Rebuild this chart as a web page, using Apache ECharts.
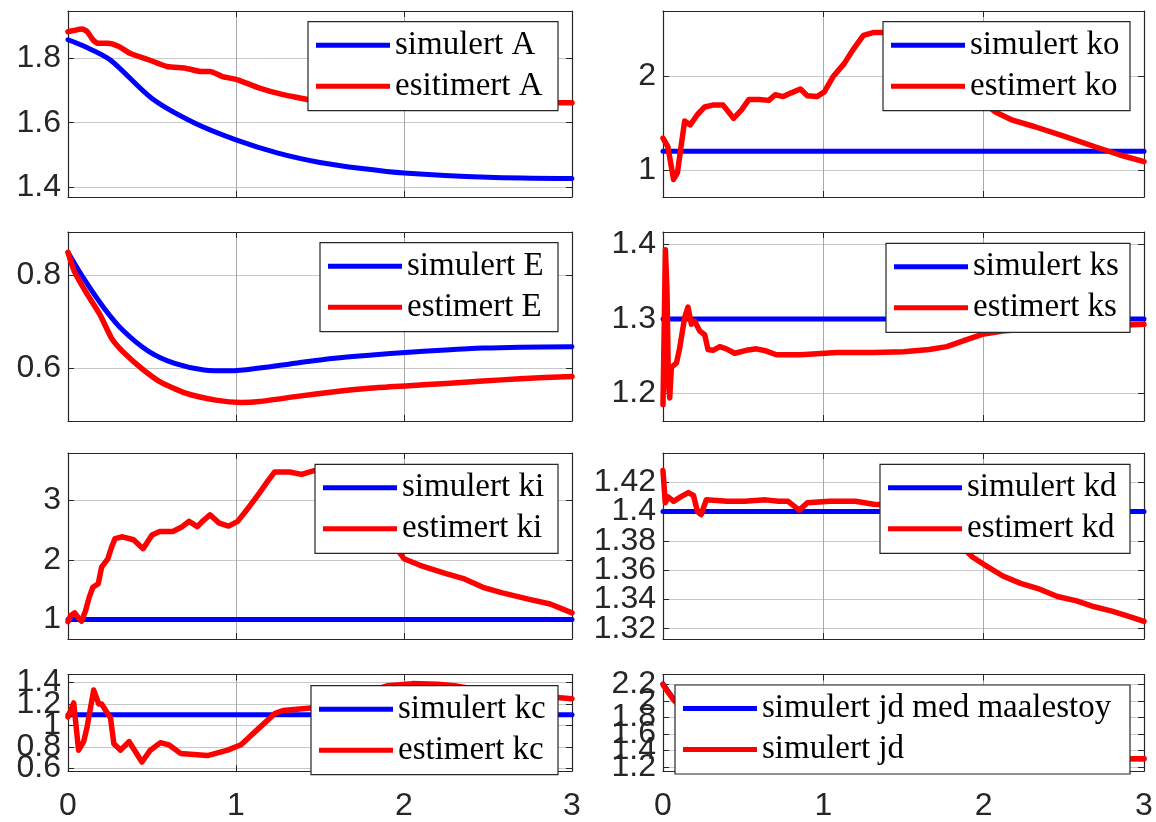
<!DOCTYPE html>
<html><head><meta charset="utf-8">
<script src="https://cdn.jsdelivr.net/npm/echarts@6/dist/echarts.min.js"></script>
<style>html,body{margin:0;padding:0;background:#fff}#c{width:1156px;height:822px}</style>
</head><body><div id="c"></div><script>
// ---------- DATA ----------
const xTicks = [0, 1, 2, 3];

const A_names = ['simulert A', 'esitimert A'];
const A_sim = [[0,1.857],[0.1,1.836],[0.25,1.795],[0.5,1.675],[0.75,1.600],[1.0,1.547],[1.25,1.506],[1.5,1.477],[1.75,1.458],[2.0,1.444],[2.5,1.431],[3.0,1.427]];
const A_est = [[0,1.882],[0.038,1.886],[0.082,1.890],[0.115,1.882],[0.148,1.857],[0.181,1.846],[0.237,1.846],[0.303,1.836],[0.369,1.815],[0.48,1.795],[0.59,1.774],[0.70,1.769],[0.79,1.759],[0.845,1.759],[0.92,1.743],[1.01,1.733],[1.14,1.707],[1.28,1.687],[1.43,1.671],[1.52,1.656],[1.70,1.645],[1.81,1.645],[1.98,1.656],[2.25,1.662],[2.6,1.662],[3.0,1.662]];
const A_ticks = [1.4, 1.6, 1.8];

const ko_names = ['simulert ko', 'estimert ko'];
const ko_sim = [[0,1.2],[3,1.2]];
const ko_est = [[0,1.34],[0.03,1.25],[0.066,0.90],[0.09,0.97],[0.11,1.22],[0.135,1.52],[0.17,1.48],[0.215,1.59],[0.26,1.67],[0.31,1.69],[0.375,1.69],[0.44,1.55],[0.49,1.64],[0.536,1.75],[0.6,1.75],[0.66,1.74],[0.7,1.8],[0.75,1.78],[0.8,1.82],[0.857,1.86],[0.9,1.79],[0.96,1.78],[1.006,1.83],[1.06,1.99],[1.13,2.13],[1.19,2.29],[1.25,2.43],[1.31,2.46],[1.36,2.46],[1.5,2.46],[1.6,2.43],[1.7,2.3],[1.8,2.1],[1.9,1.88],[2.01,1.70],[2.07,1.62],[2.18,1.53],[2.32,1.46],[2.5,1.36],[2.69,1.25],[2.85,1.16],[3.0,1.09]];
const ko_ticks = [1, 2];

const E_names = ['simulert E', 'estimert E'];
const E_sim = [[0,0.85],[0.104,0.788],[0.215,0.73],[0.325,0.683],[0.48,0.637],[0.635,0.611],[0.81,0.597],[0.967,0.595],[1.14,0.601],[1.365,0.612],[1.586,0.622],[1.81,0.629],[2.03,0.635],[2.25,0.64],[2.47,0.644],[2.69,0.646],[3.0,0.647]];
const E_est = [[0,0.85],[0.038,0.809],[0.104,0.766],[0.19,0.716],[0.26,0.665],[0.325,0.637],[0.436,0.601],[0.546,0.572],[0.7,0.547],[0.88,0.532],[1.03,0.527],[1.14,0.529],[1.365,0.540],[1.586,0.55],[1.81,0.558],[2.03,0.563],[2.25,0.568],[2.47,0.573],[2.69,0.578],[3.0,0.583]];
const E_ticks = [0.6, 0.8];

const ks_names = ['simulert ks', 'estimert ks'];
const ks_sim = [[0,1.3],[3,1.3]];
const ks_est = [[0,1.185],[0.015,1.393],[0.025,1.338],[0.034,1.212],[0.042,1.194],[0.052,1.235],[0.084,1.241],[0.104,1.261],[0.135,1.302],[0.156,1.316],[0.177,1.293],[0.198,1.297],[0.229,1.284],[0.26,1.279],[0.281,1.259],[0.312,1.258],[0.354,1.263],[0.395,1.26],[0.447,1.254],[0.52,1.258],[0.583,1.26],[0.645,1.257],[0.707,1.252],[0.857,1.252],[1.086,1.255],[1.315,1.255],[1.5,1.256],[1.66,1.259],[1.77,1.263],[1.89,1.272],[2.0,1.28],[2.12,1.284],[2.35,1.288],[2.575,1.289],[2.8,1.291],[3.0,1.293]];
const ks_ticks = [1.2, 1.3, 1.4];

const ki_names = ['simulert ki', 'estimert ki'];
const ki_sim = [[0,1],[3,1]];
const ki_est = [[0,0.96],[0.015,1.06],[0.04,1.11],[0.06,1.03],[0.08,0.97],[0.104,1.14],[0.126,1.37],[0.148,1.54],[0.18,1.6],[0.2,1.88],[0.237,2.02],[0.26,2.22],[0.28,2.36],[0.325,2.39],[0.39,2.34],[0.447,2.19],[0.5,2.42],[0.546,2.48],[0.624,2.48],[0.68,2.56],[0.72,2.65],[0.77,2.56],[0.8,2.65],[0.845,2.76],[0.9,2.62],[0.956,2.57],[1.01,2.65],[1.08,2.9],[1.14,3.13],[1.19,3.33],[1.23,3.48],[1.32,3.48],[1.39,3.44],[1.46,3.5],[1.55,3.5],[1.65,3.42],[1.75,3.15],[1.85,2.7],[1.95,2.22],[2.0,2.02],[2.095,1.91],[2.25,1.77],[2.36,1.68],[2.47,1.54],[2.58,1.45],[2.74,1.34],[2.87,1.26],[3.0,1.11]];
const ki_ticks = [1, 2, 3];

const kd_names = ['simulert kd', 'estimert kd'];
const kd_sim = [[0,1.4],[3,1.4]];
const kd_est = [[0,1.428],[0.014,1.406],[0.032,1.41],[0.066,1.407],[0.11,1.41],[0.158,1.413],[0.19,1.411],[0.215,1.40],[0.238,1.398],[0.27,1.408],[0.4,1.407],[0.51,1.407],[0.64,1.408],[0.72,1.407],[0.78,1.407],[0.85,1.401],[0.9,1.406],[1.04,1.407],[1.2,1.407],[1.315,1.405],[1.5,1.404],[1.6,1.401],[1.7,1.394],[1.8,1.383],[1.865,1.376],[1.93,1.369],[2.0,1.364],[2.12,1.356],[2.23,1.351],[2.35,1.347],[2.46,1.342],[2.58,1.339],[2.69,1.335],[2.8,1.332],[2.92,1.328],[3.0,1.325]];
const kd_ticks = [1.32, 1.34, 1.36, 1.38, 1.4, 1.42];

const kc_names = ['simulert kc', 'estimert kc'];
const kc_sim = [[0,1.1],[3,1.1]];
const kc_est = [[0,1.08],[0.034,1.21],[0.063,0.77],[0.093,0.85],[0.113,0.98],[0.153,1.33],[0.183,1.2],[0.2,1.2],[0.253,1.07],[0.273,0.83],[0.313,0.77],[0.363,0.85],[0.44,0.66],[0.49,0.77],[0.55,0.84],[0.6,0.82],[0.67,0.74],[0.83,0.72],[0.95,0.77],[1.03,0.82],[1.14,0.98],[1.23,1.11],[1.28,1.14],[1.43,1.16],[1.6,1.22],[1.75,1.3],[1.9,1.37],[2.05,1.39],[2.2,1.385],[2.3,1.37],[2.45,1.33],[2.6,1.3],[2.8,1.27],[2.91,1.26],[3.0,1.25]];
const kc_ticks = [0.6, 0.8, 1, 1.2, 1.4];

const jd_names = ['simulert jd med maalestoy', 'simulert jd'];
const jd_sim = [[0,2.21],[0.035,2.11],[0.073,2.01],[0.15,1.89],[0.25,1.77],[0.35,1.72],[0.5,1.61],[0.75,1.49],[1.0,1.43],[1.25,1.38],[1.5,1.35],[2.0,1.32],[2.5,1.305],[2.9,1.3],[3.0,1.3]];
const jd_est = [[0,2.2],[0.035,2.1],[0.073,2.0],[0.15,1.88],[0.25,1.76],[0.35,1.71],[0.5,1.61],[0.75,1.49],[1.0,1.42],[1.25,1.38],[1.5,1.35],[2.0,1.32],[2.5,1.305],[2.9,1.3],[3.0,1.3]];
const jd_ticks = [1.2, 1.4, 1.6, 1.8, 2, 2.2];

const panels = [
  {names: A_names,  sim: A_sim,  est: A_est,  yMin: 1.370, yMax: 1.946, ticks: A_ticks,  smooth: true},
  {names: ko_names, sim: ko_sim, est: ko_est, yMin: 0.714, yMax: 2.689, ticks: ko_ticks, smooth: false},
  {names: E_names,  sim: E_sim,  est: E_est,  yMin: 0.487, yMax: 0.894, ticks: E_ticks,  smooth: true},
  {names: ks_names, sim: ks_sim, est: ks_est, yMin: 1.163, yMax: 1.417, ticks: ks_ticks, smooth: false},
  {names: ki_names, sim: ki_sim, est: ki_est, yMin: 0.67,  yMax: 3.80,  ticks: ki_ticks, smooth: false},
  {names: kd_names, sim: kd_sim, est: kd_est, yMin: 1.313, yMax: 1.44,  ticks: kd_ticks, smooth: false},
  {names: kc_names, sim: kc_sim, est: kc_est, yMin: 0.576, yMax: 1.475, ticks: kc_ticks, smooth: false},
  {names: jd_names, sim: jd_sim, est: jd_est, yMin: 1.15,  yMax: 2.323, ticks: jd_ticks, smooth: true}
];

// ---------- LAYOUT ----------
const colLeft = [68, 663], colWidth = [504, 481];
const rowTop = [11, 232, 453, 674.5], rowHeight = [186, 189, 186, 100.5];
const legendPos = [
  {right: 598, top: 21.7, w: 155},
  {right: 26,  top: 21.7, w: 152},
  {right: 598, top: 242.7, w: 143},
  {right: 26,  top: 243.3, w: 149},
  {right: 598, top: 464.3, w: 148},
  {right: 26,  top: 464.3, w: 155},
  {right: 598, top: 685.7, w: 152},
  {right: 26,  top: 685,   w: 360}
];

const AX = '#262626';
const FS = 32;
const grids = [], xAxes = [], yAxes = [], series = [], legends = [];
panels.forEach((p, i) => {
  const col = i % 2, row = Math.floor(i / 2);
  const H = rowHeight[row];
  grids.push({left: colLeft[col], top: rowTop[row], width: colWidth[col], height: H, show: false});
  const tick = {show: true, inside: true, length: 6, lineStyle: {color: AX, width: 1}};
  const line = {show: true, onZero: false, lineStyle: {color: AX, width: 1.2}};
  const lbl = {fontSize: FS, color: AX, fontFamily: 'Liberation Sans, Arial, sans-serif',
    showMinLabel: true, showMaxLabel: true, hideOverlap: false};
  const xBase = xAxes.length, yBase = yAxes.length;
  xAxes.push({type: 'value', gridIndex: i, min: 0, max: 3, interval: 1, position: 'bottom',
    axisLine: line, axisTick: {...tick, customValues: xTicks},
    axisLabel: {...lbl, show: row === 3, margin: 19, customValues: xTicks},
    splitLine: {show: true, lineStyle: {color: '#a8a8a8', width: 1}}});
  xAxes.push({type: 'value', gridIndex: i, min: 0, max: 3, interval: 1, position: 'top',
    axisLine: line, axisTick: {...tick, customValues: xTicks},
    axisLabel: {show: false}, splitLine: {show: false}});
  // main left axis: ticks + grid lines, no labels
  yAxes.push({type: 'value', gridIndex: i, min: p.yMin, max: p.yMax, position: 'left',
    axisLine: line, axisTick: {...tick, customValues: p.ticks},
    axisLabel: {show: false, customValues: p.ticks},
    splitLine: {show: true, lineStyle: {color: '#c8c8c8', width: 1.2}}});
  yAxes.push({type: 'value', gridIndex: i, min: p.yMin, max: p.yMax, position: 'right',
    axisLine: line, axisTick: {...tick, customValues: p.ticks},
    axisLabel: {show: false}, splitLine: {show: false}});
  // label-only axes, split so that labels inside one axis never collide (labels overlap in the original)
  const stepPx = (p.ticks[1] - p.ticks[0]) / (p.yMax - p.yMin) * H;
  const stride = Math.max(1, Math.ceil((FS * 1.25) / stepPx));
  for (let s = 0; s < stride; s++) {
    const sub = p.ticks.filter((_, k) => k % stride === s);
    yAxes.push({type: 'value', gridIndex: i, min: p.yMin, max: p.yMax, position: 'left', offset: 0,
      axisLine: {show: false}, axisTick: {show: false, customValues: sub}, splitLine: {show: false},
      axisLabel: {...lbl, margin: 7, customValues: sub}});
  }
  series.push({type: 'line', name: p.names[0], xAxisIndex: xBase, yAxisIndex: yBase,
    data: p.sim, symbol: 'none', color: '#0000ff', z: 2,
    smooth: p.smooth ? 0.3 : false,
    lineStyle: {color: '#0000ff', width: 5, join: 'round', cap: 'round'}});
  series.push({type: 'line', name: p.names[1], xAxisIndex: xBase, yAxisIndex: yBase,
    data: p.est, symbol: 'none', color: '#ff0000', z: 3,
    smooth: p.smooth ? 0.2 : false,
    lineStyle: {color: '#ff0000', width: 5.5, join: 'round', cap: 'round'}});
  const L = legendPos[i];
  legends.push({show: true, orient: 'vertical', right: L.right, top: L.top,
    data: p.names, selectedMode: false, icon: 'rect', itemWidth: 74, itemHeight: 5, itemGap: 8,
    padding: [7, 8, 8, 8], backgroundColor: '#ffffff', borderColor: AX, borderWidth: 1.2, borderRadius: 0,
    textStyle: {fontFamily: 'Liberation Serif, Times New Roman, serif', fontSize: 33, color: '#000',
      width: L.w, lineHeight: 30, overflow: 'none'}, z: 10});
});

const chart = echarts.init(document.getElementById('c'), null, {renderer: 'canvas'});
chart.setOption({
  animation: false,
  backgroundColor: '#ffffff',
  grid: grids, xAxis: xAxes, yAxis: yAxes, series: series, legend: legends
});
</script></body></html>
